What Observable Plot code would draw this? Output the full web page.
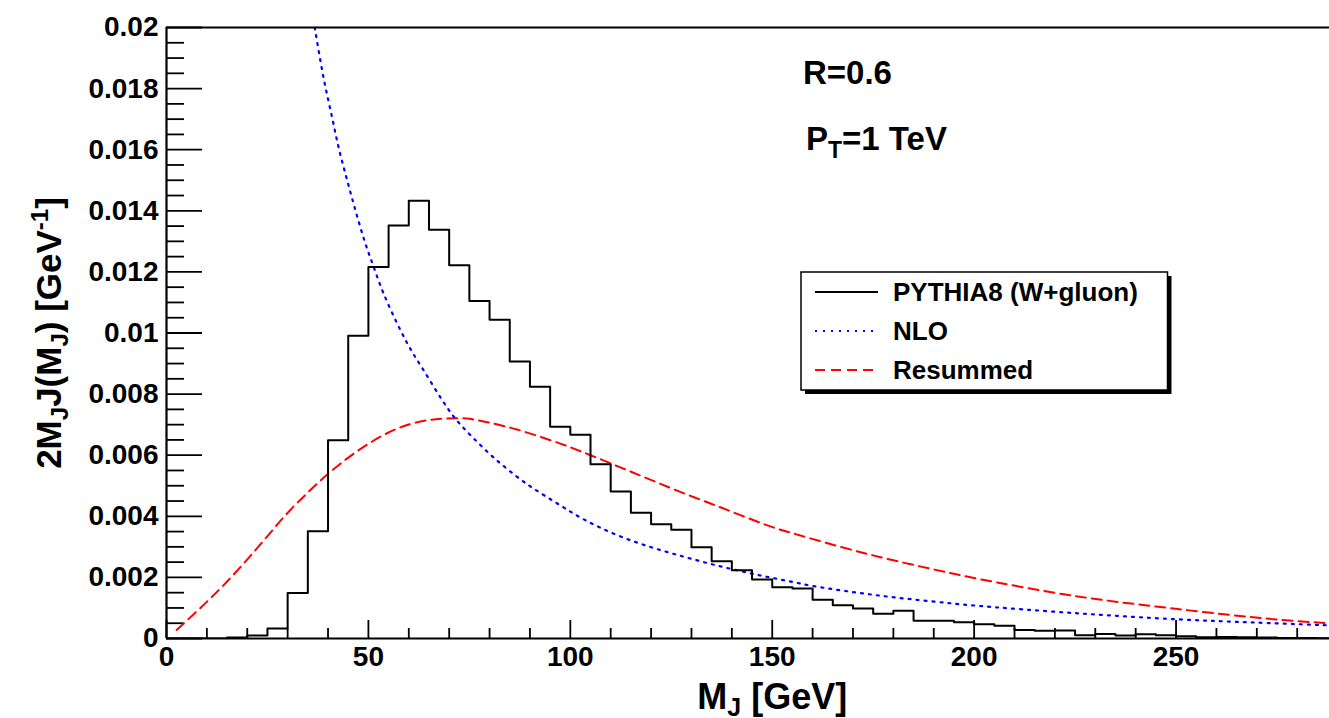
<!DOCTYPE html>
<html>
<head>
<meta charset="utf-8">
<script src="https://cdn.jsdelivr.net/npm/d3@7"></script>
<script src="https://cdn.jsdelivr.net/npm/@observablehq/plot@0.6"></script>
<style>
html, body { margin: 0; padding: 0; background: #fff; overflow: hidden; }
#chart { width: 1329px; height: 718px; }
</style>
</head>
<body>
<div id="chart"></div>
<script>
// ---------------- DATA ----------------
// PYTHIA8 (W+gluon) histogram, 5 GeV bins
const pythiaBinEdges = [0,5,10,15,20,25,30,35,40,45,50,55,60,65,70,75,80,85,90,95,100,105,110,115,120,125,130,135,140,145,150,155,160,165,170,175,180,185,190,195,200,205,210,215,220,225,230,235,240,245,250,255,260,265,270,275,280,285,290];
const pythiaValues = [0,0,0,0.00003,0.0001,0.00033,0.00149,0.00351,0.00649,0.00991,
  0.01216,0.01352,0.01433,0.01338,0.01222,0.01105,0.01043,0.00907,0.00824,0.00693,
  0.00667,0.0057,0.00481,0.00412,0.00374,0.00356,0.00299,0.00253,0.00223,0.00193,
  0.00168,0.00164,0.00127,0.00109,0.00098,0.00081,0.00091,0.00058,0.00058,0.00053,
  0.00047,0.00042,0.00028,0.00025,0.00026,0.00011,0.00015,0.0001,0.00014,0.00011,
  0.00007,0.00004,0.00005,0.00004,0.00003,0.00002,0.00002,0.00001];

// NLO curve
const nloX = [36.7,38.9,41,42.7,44.7,46.8,49.1,51.2,53.8,57.9,60.8,63.9,68,71.5,75.7,81.3,88.9,97.5,102.5,107.4,113.2,119,124.8,130.5,136.3,142.1,147.9,153.6,160,170,180,190,200,225,250,270,288];
const nloY = [0.02,0.01835,0.01706,0.01603,0.01502,0.01401,0.01299,0.0122,0.01128,0.0101,0.00939,0.00873,0.00786,0.0072,0.0066,0.00589,0.00509,0.00436,0.00396,0.00363,0.0033,0.00303,0.0028,0.00259,0.00239,0.00221,0.00204,0.00189,0.00172,0.00152,0.00135,0.00121,0.00108,0.00083,0.00063,0.00052,0.00043];

// Resummed curve
const resX = [2.5,9.9,14.9,19.8,24.8,29.7,34.7,39.6,44.6,49.5,54.5,59.4,64.4,69.3,74.3,79.4,86.8,97.5,105,112.4,119.8,127.2,134.7,142.1,149.5,156.5,170,180,190,200,225,250,275,288];
const resY = [0.00028,0.00119,0.00185,0.00256,0.00332,0.00407,0.00474,0.00534,0.00588,0.00633,0.00671,0.00698,0.00714,0.0072,0.0072,0.00708,0.00684,0.00638,0.006,0.0056,0.0052,0.0048,0.00442,0.00404,0.00367,0.00339,0.00289,0.00256,0.00226,0.00198,0.00139,0.00097,0.00062,0.0005];

// Axis ticks / labels
const xMajorTicks = [0,50,100,150,200,250];
const xMinorTicks = [10,20,30,40,60,70,80,90,110,120,130,140,160,170,180,190,210,220,230,240,260,270,280];
const yMajorTicks = [0,0.002,0.004,0.006,0.008,0.01,0.012,0.014,0.016,0.018,0.02];
const yMinorTicks = [0.0005,0.001,0.0015,0.0025,0.003,0.0035,0.0045,0.005,0.0055,0.0065,0.007,0.0075,0.0085,0.009,0.0095,0.0105,0.011,0.0115,0.0125,0.013,0.0135,0.0145,0.015,0.0155,0.0165,0.017,0.0175,0.0185,0.019,0.0195];
const xDomain = [0, 288];
const yDomain = [0, 0.02];
const xAxisCenter = 150; // centre of the full (uncropped) 0-300 axis

const legendLabels = ["PYTHIA8 (W+gluon)", "NLO", "Resummed"];
const legendColors = ["#000000", "#0000ff", "#ff0000"];
const legendDashes = [null, "2,6", "10,6"];
const annotR = "R=0.6";

// ---------------- BUILD ----------------
const W = 1329, H = 718;
const mL = 166, mR = 0, mT = 27, mB = 80;
const plotW = W - mL - mR, plotH = H - mT - mB;
const FONT = "'Liberation Sans', Arial, Helvetica, sans-serif";

const histPts = pythiaValues.map((v, i) => ({x: pythiaBinEdges[i], y: v}));
histPts.push({x: pythiaBinEdges[pythiaBinEdges.length - 1], y: pythiaValues[pythiaValues.length - 1]});
const nloPts = nloX.map((x, i) => ({x, y: nloY[i]}));
const resPts = resX.map((x, i) => ({x, y: resY[i]}));

const chart = Plot.plot({
  width: W, height: H,
  marginLeft: mL, marginRight: mR, marginTop: mT, marginBottom: mB,
  style: {fontFamily: FONT, fontSize: "28px", fontWeight: "bold", background: "#fff", color: "#000", overflow: "visible"},
  x: {domain: xDomain, axis: null},
  y: {domain: yDomain, axis: null},
  marks: [
    // minor & major ticks (inside)
    Plot.ruleY(yMinorTicks, {stroke: "#000", strokeWidth: 1.8, insetRight: plotW - 18}),
    Plot.ruleY(yMajorTicks, {stroke: "#000", strokeWidth: 1.8, insetRight: plotW - 36}),
    Plot.ruleX(xMinorTicks, {stroke: "#000", strokeWidth: 1.8, insetTop: plotH - 10}),
    Plot.ruleX(xMajorTicks, {stroke: "#000", strokeWidth: 1.8, insetTop: plotH - 18}),
    // curves
    Plot.line(resPts, {x: "x", y: "y", stroke: "#ff0000", strokeWidth: 2, strokeDasharray: "10,6", curve: "catmull-rom", clip: true}),
    Plot.line(nloPts, {x: "x", y: "y", stroke: "#0000ff", strokeWidth: 2.2, strokeDasharray: "2,6", curve: "catmull-rom", clip: true}),
    Plot.line(histPts, {x: "x", y: "y", stroke: "#000", strokeWidth: 2, curve: "step-after", clip: true}),
    // frame
    Plot.ruleY([yDomain[0]], {stroke: "#000", strokeWidth: 2.2}),
    Plot.ruleY([yDomain[1]], {stroke: "#000", strokeWidth: 2.2}),
    Plot.ruleX([xDomain[0]], {stroke: "#000", strokeWidth: 2.2}),
    // tick labels
    Plot.axisY({ticks: yMajorTicks, tickSize: 0, tickPadding: 8, tickFormat: d => String(+d.toFixed(4)), label: null, fontSize: 28}),
    Plot.axisX({ticks: xMajorTicks, tickSize: 0, tickPadding: 8, tickFormat: d => String(d), label: null, fontSize: 28}),
    // axis titles
    Plot.text(["M_J [GeV]"], {x: () => xAxisCenter, frameAnchor: "bottom", dy: 70, fontSize: 36, textAnchor: "middle", lineAnchor: "bottom"}),
    Plot.text(["YTITLE"], {y: () => (yDomain[0] + yDomain[1]) / 2, frameAnchor: "left", dx: -106, rotate: -90, fontSize: 35, textAnchor: "middle", lineAnchor: "bottom"})
  ]
});

document.getElementById("chart").appendChild(chart);

// rich text helper: parts = [[text, sizePx, shiftPx]]
function rich(el, parts) {
  const t = d3.select(el);
  t.text(null);
  let cur = 0;
  for (const [txt, size, shift] of parts) {
    t.append("tspan").attr("font-size", size).attr("dy", shift - cur).text(txt);
    cur = shift;
  }
}
const svg = d3.select(chart.tagName.toLowerCase() === "svg" ? chart : chart.querySelector("svg"));
svg.selectAll("text").each(function() {
  if (this.textContent === "M_J [GeV]") {
    rich(this, [["M", 36, 0], ["J", 25, 7], [" [GeV]", 36, 0]]);
  } else if (this.textContent === "YTITLE") {
    rich(this, [["2M", 35, 0], ["J", 24, 7], ["J(M", 35, 0], ["J", 24, 7], [") [GeV", 35, 0], ["-1", 24, -13], ["]", 35, 0]]);
  }
});

// annotations
const ann = svg.append("g").attr("font-family", FONT).attr("font-weight", "bold").attr("fill", "#000").attr("text-anchor", "start");
ann.append("text").attr("x", 803).attr("y", 84).attr("font-size", 33).text(annotR);
const pt = ann.append("text").attr("x", 806).attr("y", 150).attr("font-size", 33);
rich(pt.node(), [["P", 33, 0], ["T", 23, 8], ["=1 TeV", 33, 0]]);

// legend
const lg = svg.append("g").attr("font-family", FONT).attr("font-weight", "bold").attr("text-anchor", "start");
lg.append("rect").attr("x", 805).attr("y", 276).attr("width", 366.5).attr("height", 118).attr("fill", "#000");
lg.append("rect").attr("x", 801).attr("y", 272).attr("width", 366.5).attr("height", 118)
  .attr("fill", "#fff").attr("stroke", "#000").attr("stroke-width", 1.5);
legendLabels.forEach((lab, i) => {
  const yy = 292 + i * 39;
  const ln = lg.append("line").attr("x1", 815).attr("x2", 878).attr("y1", yy).attr("y2", yy)
    .attr("stroke", legendColors[i]).attr("stroke-width", 2);
  if (legendDashes[i]) ln.attr("stroke-dasharray", legendDashes[i]);
  lg.append("text").attr("x", 893).attr("y", yy).attr("dy", "0.35em").attr("font-size", 26).attr("fill", "#000").text(lab);
});
</script>
</body>
</html>
